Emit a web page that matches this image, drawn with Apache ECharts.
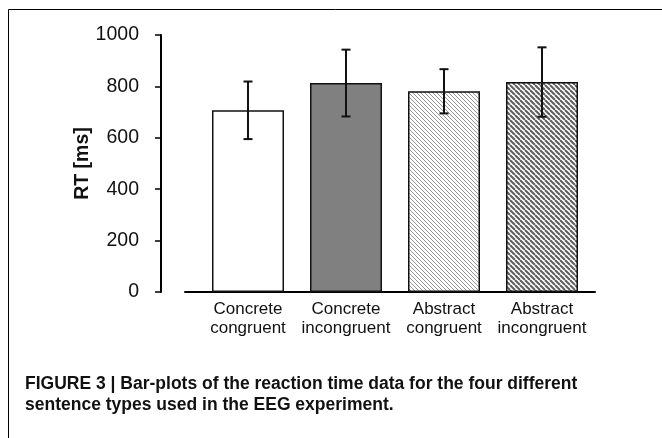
<!DOCTYPE html>
<html>
<head>
<meta charset="utf-8">
<script src="https://cdn.jsdelivr.net/npm/echarts@6/dist/echarts.min.js"></script>
<style>
  html, body { margin: 0; padding: 0; background: #fff; }
  #chart { width: 662px; height: 438px; }
</style>
</head>
<body>
<div id="chart"></div>
<script>
// data
var categories = ['Concrete\ncongruent', 'Concrete\nincongruent', 'Abstract\ncongruent', 'Abstract\nincongruent'];
var rtMean = [707, 813, 781, 817];
var rtErr = [112, 130, 86, 135];
var yTicks = [0, 200, 400, 600, 800, 1000];

// diagonal hatch tile
function hatch(size, lineW, col) {
  var c = document.createElement('canvas');
  c.width = size; c.height = size;
  var ctx = c.getContext('2d');
  ctx.fillStyle = '#fff';
  ctx.fillRect(0, 0, size, size);
  ctx.strokeStyle = col;
  ctx.lineWidth = lineW;
  for (var k = -1; k <= 1; k++) {
    ctx.beginPath();
    ctx.moveTo(k * size, 0);
    ctx.lineTo(k * size + size, size);
    ctx.stroke();
  }
  return c;
}

var fills = [
  '#ffffff',
  '#808080',
  { image: hatch(4, 1, '#949494'), repeat: 'repeat' },
  { image: hatch(5, 2, '#5e5e5e'), repeat: 'repeat' }
];

var sans = '"Liberation Sans", Arial, sans-serif';
var chart = echarts.init(document.getElementById('chart'));

var option = {
  animation: false,
  backgroundColor: '#fff',
  title: {
    text: 'FIGURE 3 | Bar-plots of the reaction time data for the four different\nsentence types used in the EEG experiment.',
    left: 25,
    top: 373.5,
    padding: 0,
    textStyle: {
      fontFamily: sans,
      fontWeight: 'bold',
      fontSize: 17.5,
      lineHeight: 21,
      color: '#111'
    }
  },
  graphic: [
    { // outer frame (top + left edge)
      type: 'polyline',
      shape: { points: [[8.5, 438], [8.5, 9.5], [662, 9.5]] },
      style: { stroke: '#000', lineWidth: 1, fill: null }
    }
  ],
  grid: [
    { left: 199, right: 71, top: 35, bottom: 146 },
    { left: 185, right: 67, top: 35, bottom: 146 }
  ],
  xAxis: [
    {
      type: 'category',
      gridIndex: 0,
      data: categories,
      axisLine: { show: false },
      axisTick: { show: false },
      axisLabel: {
        interval: 0,
        hideOverlap: false,
        color: '#111',
        fontFamily: sans,
        fontSize: 17,
        lineHeight: 19,
        margin: 8
      }
    },
    {
      type: 'value',
      gridIndex: 1,
      min: 0, max: 1,
      axisLine: { show: true, lineStyle: { color: '#000', width: 2 } },
      axisTick: { show: false },
      axisLabel: { show: false },
      splitLine: { show: false }
    }
  ],
  yAxis: [
    {
      type: 'value',
      gridIndex: 0,
      min: yTicks[0],
      max: yTicks[yTicks.length - 1],
      interval: 200,
      offset: 38,
      name: 'RT [ms]',
      nameLocation: 'middle',
      nameGap: 68,
      nameMoveOverlap: false,
      nameTextStyle: {
        fontFamily: sans,
        fontWeight: 'bold',
        fontSize: 19.5,
        color: '#111'
      },
      axisLine: { show: true, lineStyle: { color: '#000', width: 2 } },
      axisTick: { show: true, length: 6, lineStyle: { color: '#000', width: 1.5 } },
      axisLabel: {
        color: '#111',
        fontFamily: sans,
        fontSize: 19.5,
        margin: 22,
        formatter: function (v) { return String(v); }
      },
      splitLine: { show: false }
    },
    { type: 'value', gridIndex: 1, show: false, min: 0, max: 1 }
  ],
  series: [
    {
      type: 'bar',
      xAxisIndex: 0,
      yAxisIndex: 0,
      barWidth: 72,
      data: rtMean.map(function (v, i) {
        return {
          value: v,
          itemStyle: { color: fills[i], borderColor: '#111', borderWidth: 1.5 }
        };
      })
    },
    {
      type: 'custom',
      xAxisIndex: 0,
      yAxisIndex: 0,
      z: 5,
      data: rtMean.map(function (v, i) { return [i, v - rtErr[i], v + rtErr[i]]; }),
      renderItem: function (params, api) {
        var lo = api.coord([api.value(0), api.value(1)]);
        var hi = api.coord([api.value(0), api.value(2)]);
        var cap = 4.5;
        var st = { stroke: '#111', lineWidth: 2 };
        return {
          type: 'group',
          children: [
            { type: 'line', shape: { x1: hi[0], y1: hi[1], x2: lo[0], y2: lo[1] }, style: st },
            { type: 'line', shape: { x1: hi[0] - cap, y1: hi[1], x2: hi[0] + cap, y2: hi[1] }, style: st },
            { type: 'line', shape: { x1: lo[0] - cap, y1: lo[1], x2: lo[0] + cap, y2: lo[1] }, style: st }
          ]
        };
      }
    }
  ]
};

chart.setOption(option);
</script>
</body>
</html>
